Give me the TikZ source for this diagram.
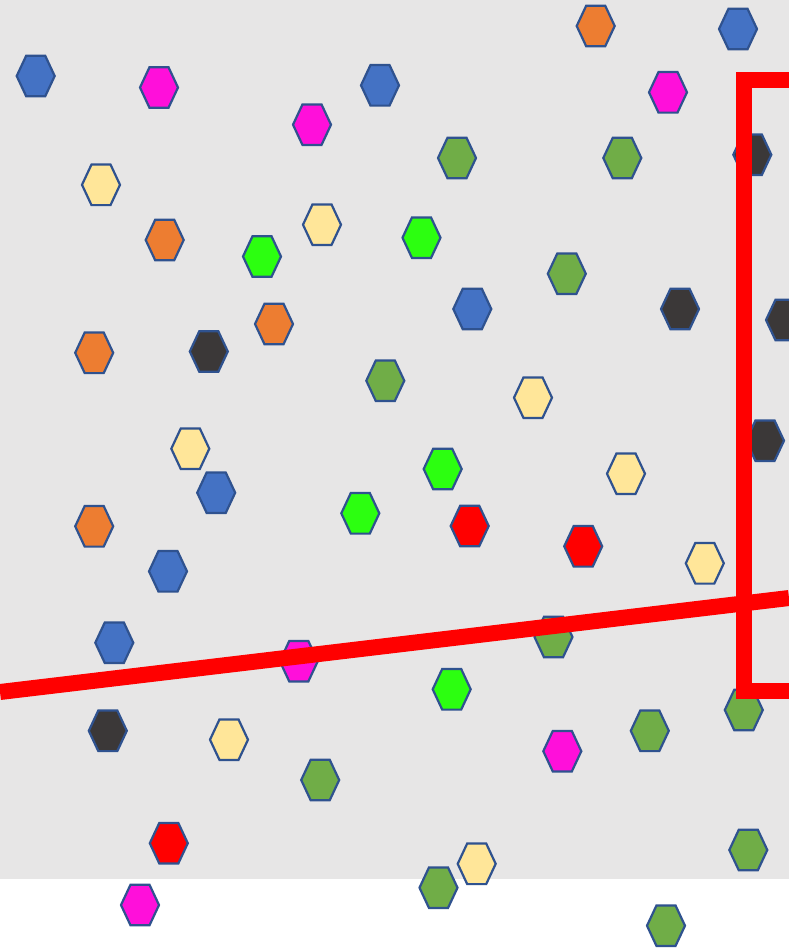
\documentclass[tikz,border=0pt]{standalone}
\definecolor{bg}{HTML}{E7E6E6}
\definecolor{edge}{HTML}{2F528F}
\definecolor{cblue}{HTML}{4472C4}
\definecolor{cmag}{HTML}{FF0FDA}
\definecolor{corange}{HTML}{ED7D31}
\definecolor{cyellow}{HTML}{FFE699}
\definecolor{cgreen}{HTML}{70AD47}
\definecolor{clime}{HTML}{2CFF10}
\definecolor{cblack}{HTML}{3B3838}
\definecolor{cred}{HTML}{FF0000}
\tikzset{
  hexcell/.style={draw=edge, line width=2.2pt, line join=miter},
  redbar/.style={draw=cred, line width=16pt, line join=miter}
}
\begin{document}
\begin{tikzpicture}[x=1pt,y=-1pt]
\useasboundingbox (0,0) rectangle (789,951);
\fill[white] (0,0) rectangle (789,951);
\fill[bg] (0,0) rectangle (789,879);
\foreach \px/\py/\c in {
  595.7/26/corange, 738/29/cblue, 35.7/76/cblue, 159/87.5/cmag, 380/85.3/cblue,
  668/92.3/cmag, 312/124.7/cmag, 457/158/cgreen, 622.3/158/cgreen, 752.3/154.7/cblack,
  101/184.8/cyellow, 164.7/240/corange, 262/256.5/clime, 322/224.7/cyellow, 421.5/237.7/clime,
  566.8/273.7/cgreen, 274/324/corange, 472.3/309/cblue, 680/309/cblack, 785/320/cblack,
  94.2/352.8/corange, 208.8/351.5/cblack, 385.3/380.7/cgreen, 533/397.7/cyellow, 190.3/448.7/cyellow,
  765/440.7/cblack, 216.2/492.7/cblue, 442.7/469/clime, 626/473.7/cyellow, 94.2/526.3/corange,
  360.3/513.3/clime, 469.7/526/cred, 583.2/546.3/cred, 704.8/563.3/cyellow, 168/571.3/cblue,
  114.3/642.7/cblue, 298.8/661.2/cmag, 553.5/637/cgreen, 451.7/689.3/clime, 107.8/730.8/cblack,
  229/739.7/cyellow, 649.8/730.8/cgreen, 743.8/710/cgreen, 562.3/751.2/cmag, 320.2/780/cgreen,
  168.8/843.2/cred, 140/905/cmag, 476.7/863.8/cyellow, 438.5/887.7/cgreen, 748.3/850/cgreen,
  666/925.7/cgreen}
{
  \filldraw[hexcell, fill=\c, shift={(\px,\py)}]
    (-19,0) -- (-9.5,-20.3) -- (9.5,-20.3) -- (19,0) -- (9.5,20.3) -- (-9.5,20.3) -- cycle;
}
\coordinate (lineA) at (0,692);
\coordinate (lineB) at (789,598);
\coordinate (brTopR) at (795,80);
\coordinate (brTopL) at (744,80);
\coordinate (brBotL) at (744,691);
\coordinate (brBotR) at (795,691);
\draw[redbar] (lineA) -- (lineB);
\draw[redbar] (brTopR) -- (brTopL) -- (brBotL) -- (brBotR);
\end{tikzpicture}
\end{document}
